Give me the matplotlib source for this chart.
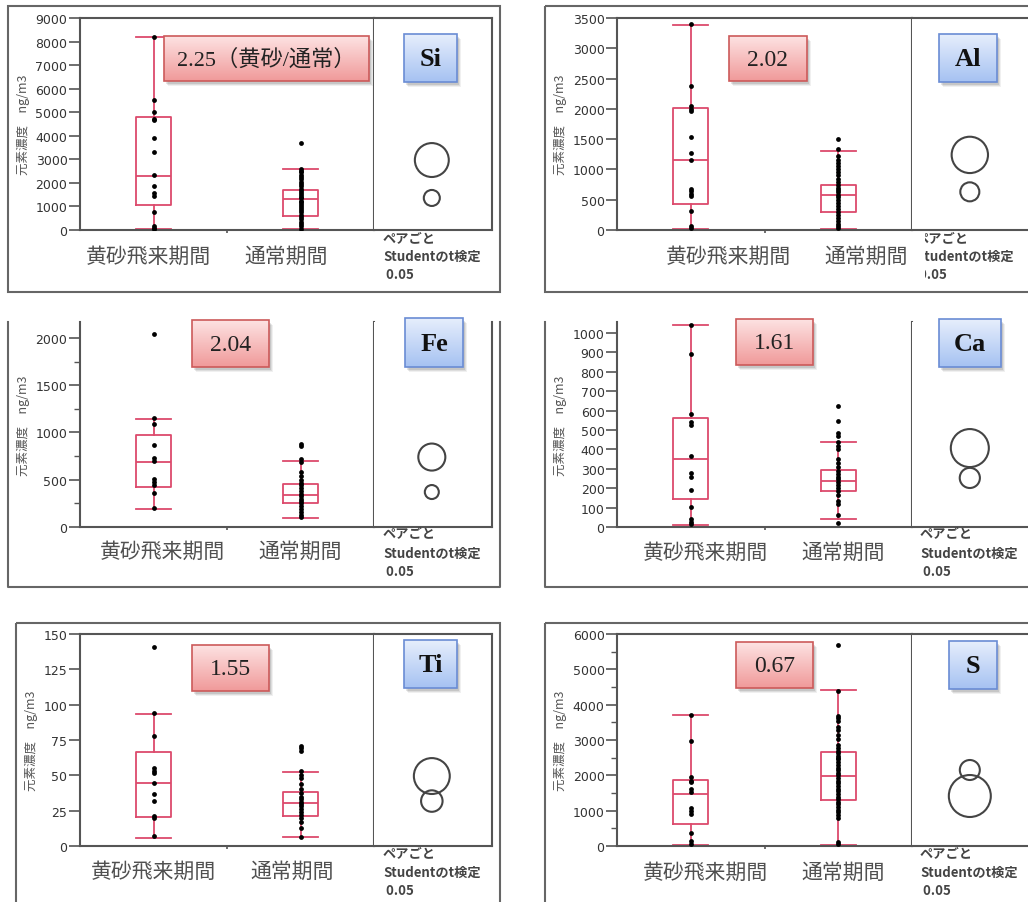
import matplotlib
matplotlib.use('Agg')
import numpy as np
import matplotlib.pyplot as plt
from matplotlib.patches import Rectangle, Ellipse
from matplotlib.colors import LinearSegmentedColormap
from matplotlib.ticker import MultipleLocator
from matplotlib.transforms import Bbox

W, H = 1028, 903
JP = ['Noto Sans CJK JP', 'DejaVu Sans']
SERIF = ['Liberation Serif', 'Noto Sans CJK JP']
RED = '#dc4a6c'
GREY = '#555555'

# 区分と共通ラベル
groups = ['黄砂飛来期間', '通常期間']
ylabel = '元素濃度　ng/m3'
pair_lines = ['ペアごと', 'Studentのt検定', ' 0.05']

# 元素ごとのデータ (ng/m3)
# box = [whislo, q1, med, q3, whishi], circle = 平均値, radius = 比較円の半径
si_ratio = '2.25（黄砂/通常）'
si_kosa = [8200, 5500, 5000, 4700, 4650, 3900, 3300, 2350, 1850, 1550, 1450, 750, 150, 100, 50]
si_normal = [3700, 2600, 2500, 2450, 2350, 2250, 2150, 2050, 1950, 1850, 1750, 1650, 1550, 1500,
             1400, 1350, 1250, 1200, 1100, 1000, 950, 850, 750, 650, 550, 450, 350, 250, 150, 60]
si_kosa_box = [50, 1050, 2300, 4800, 8200]
si_normal_box = [50, 600, 1300, 1700, 2600]
si_circle = [2970, 1360]
si_radius = [720, 340]

al_ratio = '2.02'
al_kosa = [3400, 2370, 2050, 2000, 1970, 1540, 1270, 1160, 680, 640, 600, 560, 310, 60, 30]
al_normal = [1500, 1330, 1220, 1150, 1100, 1050, 1000, 950, 900, 850, 800, 750, 700, 660, 620,
             580, 540, 500, 450, 400, 350, 300, 250, 200, 150, 100, 60, 30]
al_kosa_box = [20, 430, 1150, 2010, 3390]
al_normal_box = [20, 290, 585, 745, 1305]
al_circle = [1240, 630]
al_radius = [300, 157]

fe_ratio = '2.04'
fe_kosa = [2040, 1150, 1090, 870, 730, 700, 510, 480, 440, 360, 200]
fe_normal = [880, 860, 720, 690, 580, 540, 500, 470, 440, 410, 380, 350, 330, 300, 280, 250,
             220, 190, 160, 130, 110]
fe_kosa_box = [190, 420, 685, 975, 1140]
fe_normal_box = [100, 250, 335, 450, 695]
fe_circle = [740, 370]
fe_radius = [143, 74]

ca_ratio = '1.61'
ca_kosa = [1040, 890, 585, 540, 525, 365, 280, 260, 190, 105, 40, 25, 15]
ca_normal = [625, 545, 485, 470, 440, 420, 400, 350, 330, 310, 290, 275, 260, 245, 230, 215,
             200, 185, 165, 135, 120, 60, 20]
ca_kosa_box = [12, 143, 350, 560, 1040]
ca_normal_box = [43, 185, 237, 296, 437]
ca_circle = [407, 253]
ca_radius = [98, 52]

ti_ratio = '1.55'
ti_kosa = [141, 94, 78, 55.5, 53, 52, 44.5, 36.5, 31.5, 21, 19.5, 7]
ti_normal = [71, 69, 67, 53, 50.5, 48, 44, 40, 37.5, 35, 33, 31, 29.5, 28, 26, 24, 22, 20, 17,
             12.5, 6.5]
ti_kosa_box = [5.7, 20.6, 44.3, 66.6, 93.1]
ti_normal_box = [6.4, 21.1, 30.1, 38.4, 52.6]
ti_circle = [49.5, 31.8]
ti_radius = [12.7, 7.6]

s_ratio = '0.67'
s_kosa = [3720, 2970, 1950, 1850, 1800, 1620, 1520, 1080, 1000, 900, 380, 130, 60]
s_normal = [5680, 4400, 3680, 3620, 3550, 3380, 3280, 3150, 3020, 2860, 2780, 2700, 2620, 2560,
            2500, 2450, 2380, 2300, 2220, 2150, 2080, 2000, 1920, 1850, 1780, 1700, 1620, 1550,
            1480, 1400, 1330, 1250, 1180, 1100, 1020, 950, 880, 800, 120, 60]
s_kosa_box = [25, 617, 1462, 1871, 3704]
s_normal_box = [30, 1300, 1985, 2670, 4406]
s_circle = [1415, 2151]
s_radius = [594, 283]

data = {
    'Si': (si_ratio, si_kosa, si_normal, si_kosa_box, si_normal_box, si_circle, si_radius),
    'Al': (al_ratio, al_kosa, al_normal, al_kosa_box, al_normal_box, al_circle, al_radius),
    'Fe': (fe_ratio, fe_kosa, fe_normal, fe_kosa_box, fe_normal_box, fe_circle, fe_radius),
    'Ca': (ca_ratio, ca_kosa, ca_normal, ca_kosa_box, ca_normal_box, ca_circle, ca_radius),
    'Ti': (ti_ratio, ti_kosa, ti_normal, ti_kosa_box, ti_normal_box, ti_circle, ti_radius),
    'S': (s_ratio, s_kosa, s_normal, s_kosa_box, s_normal_box, s_circle, s_radius),
}

# 配置 (ピクセル): 枠, プロット領域, 比較円領域の右端, 注記ボックスなど
layout = {
    'Si': dict(frame=(8, 7, 500, 293), ax=(80, 19, 374, 231), cr=492, top=True, ymax=9000,
               step=1000, minor=None, rbox=(164, 37, 369, 82), ebox=(404, 35, 457, 83),
               rsize=16, cat_x=(148, 286), cat_y=257, pair_x=383, pair_y=(238, 257, 275),
               clip=None),
    'Al': dict(frame=(545, 7, 1040, 293), ax=(617, 19, 912, 231), cr=1030, top=True, ymax=3500,
               step=500, minor=None, rbox=(729, 37, 807, 82), ebox=(939, 35, 997, 83),
               rsize=17, cat_x=(728, 866), cat_y=257, pair_x=916, pair_y=(238, 257, 275),
               clip=925),
    'Fe': dict(frame=(8, 323, 500, 588), ax=(80, 323, 374, 528), cr=492, top=False, ymax=2169,
               step=500, minor=250, rbox=(192, 321, 269, 368), ebox=(405, 319, 463, 368),
               rsize=17, cat_x=(162, 300), cat_y=552, pair_x=383, pair_y=(533, 554, 572),
               clip=None),
    'Ca': dict(frame=(545, 323, 1040, 588), ax=(617, 323, 912, 528), cr=1030, top=False, ymax=1057,
               step=100, minor=None, rbox=(736, 320, 813, 366), ebox=(939, 320, 1001, 368),
               rsize=17, cat_x=(705, 843), cat_y=553, pair_x=920, pair_y=(533, 554, 572),
               clip=None),
    'Ti': dict(frame=(16, 624, 500, 915), ax=(80, 635, 374, 847), cr=492, top=True, ymax=150,
               step=25, minor=None, rbox=(192, 646, 269, 692), ebox=(404, 641, 457, 689),
               rsize=17, cat_x=(153, 292), cat_y=872, pair_x=383, pair_y=(853, 873, 891),
               clip=None),
    'S': dict(frame=(545, 624, 1040, 915), ax=(617, 635, 912, 847), cr=1030, top=True, ymax=6000,
              step=1000, minor=500, rbox=(736, 643, 813, 689), ebox=(949, 642, 997, 690),
              rsize=17, cat_x=(705, 843), cat_y=873, pair_x=920, pair_y=(853, 873, 891),
              clip=None),
}

fig = plt.figure(figsize=(W / 100, H / 100), dpi=100)
fig.patch.set_facecolor('white')


def px_axes(x0, y0, x1, y1, **kw):
    return fig.add_axes([x0 / W, 1 - y1 / H, (x1 - x0) / W, (y1 - y0) / H], **kw)


# 重ね描き用 (ピクセル座標)
ov = px_axes(0, 0, W, H, zorder=10)
ov.patch.set_alpha(0)
ov.axis('off')


def grad_box(x0, y0, x1, y1, c_top, c_bot, edge):
    for dx, dy, a in [(4, 5, 0.06), (3, 4, 0.08), (2, 3, 0.10)]:
        ov.add_patch(Rectangle((x0 + dx, y0 + dy), x1 - x0, y1 - y0, fc='black',
                               alpha=a, lw=0, zorder=1))
    cmap = LinearSegmentedColormap.from_list('g', [c_top, c_bot])
    ov.imshow(np.linspace(0, 1, 64).reshape(-1, 1), cmap=cmap, extent=(x0, x1, y1, y0),
              aspect='auto', origin='upper', interpolation='bilinear', zorder=2)
    ov.add_patch(Rectangle((x0, y0), x1 - x0, y1 - y0, fill=False, ec=edge, lw=1.2, zorder=3))


for elem, (ratio, kosa, normal, kosa_box, normal_box, means, radius) in data.items():
    L = layout[elem]
    x0, y0, x1, y1 = L['ax']
    ymax = L['ymax']

    # 箱ひげ図
    ax = px_axes(x0, y0, x1, y1)
    ax.set_xlim(0.5, 2.5)
    ax.set_ylim(0, ymax)
    stats = [dict(whislo=b[0], q1=b[1], med=b[2], q3=b[3], whishi=b[4])
             for b in (kosa_box, normal_box)]
    lp = dict(color=RED, lw=1.3)
    ax.bxp(stats, positions=[1, 2], widths=0.24, capwidths=0.24, showfliers=False,
           boxprops=lp, medianprops=lp, whiskerprops=lp, capprops=lp)
    ax.scatter(np.full(len(kosa), 1.0), kosa, s=12, color='black', zorder=5, lw=0)
    ax.scatter(np.full(len(normal), 2.0), normal, s=12, color='black', zorder=5, lw=0)

    ax.yaxis.set_major_locator(MultipleLocator(L['step']))
    if L['minor']:
        ax.yaxis.set_minor_locator(MultipleLocator(L['minor']))
    ax.tick_params(axis='y', which='major', direction='out', length=8, width=1.2,
                   color=GREY, labelsize=9, labelcolor='#333333', pad=1)
    ax.tick_params(axis='y', which='minor', direction='out', length=4, width=1.0, color=GREY)
    ax.set_xticks([1.5])
    ax.tick_params(axis='x', length=2, width=1.2, color=GREY, labelbottom=False)
    ax.set_ylabel(ylabel, family=JP, fontsize=9, color='#555555', labelpad=4)
    for side, sp in ax.spines.items():
        sp.set_color(GREY)
        sp.set_linewidth(1.5)
    ax.spines['top'].set_visible(L['top'])

    # 平均値の比較円
    cr = L['cr']
    ax2 = px_axes(x1, y0, cr, y1)
    ax2.set_xlim(0, 1)
    ax2.set_ylim(0, ymax)
    ax2.set_xticks([])
    ax2.set_yticks([])
    for side, sp in ax2.spines.items():
        sp.set_color(GREY)
        sp.set_linewidth(1.5)
    ax2.spines['left'].set_visible(False)
    ax2.spines['top'].set_visible(L['top'])
    sx = (y1 - y0) / ymax / (cr - x1)
    for m, r in zip(means, radius):
        ax2.add_patch(Ellipse((0.49, m), 2 * r * sx, 2 * r, fill=False, ec='#444444', lw=1.5))

    # 外枠
    fx0, fy0, fx1, fy1 = L['frame']
    if L['top']:
        ov.add_patch(Rectangle((fx0, fy0), fx1 - fx0, fy1 - fy0, fill=False, ec='#666666', lw=1.5))
    else:
        ov.plot([fx0, fx0, fx1, fx1], [fy0, fy1, fy1, fy0], color='#666666', lw=1.5)

    # 比率と元素名のボックス
    bx0, by0, bx1, by1 = L['rbox']
    grad_box(bx0, by0, bx1, by1, '#fde2e2', '#f09a9a', '#cc5a5a')
    ov.text((bx0 + bx1) / 2, (by0 + by1) / 2 + 1, ratio, ha='center', va='center',
            family=SERIF, fontsize=L['rsize'], color='#222222', zorder=4)
    ex0, ey0, ex1, ey1 = L['ebox']
    grad_box(ex0, ey0, ex1, ey1, '#e6eefc', '#a6c2f2', '#6a8cd4')
    ov.text((ex0 + ex1) / 2, (ey0 + ey1) / 2 + 1, elem, ha='center', va='center',
            family=SERIF, fontsize=19, weight='bold', color='#111111', zorder=4)

    # 区分ラベル
    for cx, name in zip(L['cat_x'], groups):
        ov.text(cx, L['cat_y'], name, ha='center', va='center', family=JP, fontsize=15,
                color='#505050')

    # 検定の注記
    for py, line in zip(L['pair_y'], pair_lines):
        t = ov.text(L['pair_x'], py, line, ha='left', va='center', family=JP, fontsize=9.5,
                    weight='bold', color='#444444')
        if L['clip']:
            t.set_clip_box(Bbox.from_extents(L['clip'], 0, W, H))
            t.set_clip_on(True)

ov.set_xlim(0, W)
ov.set_ylim(H, 0)

fig.savefig('out.png', dpi=100, facecolor='white')
